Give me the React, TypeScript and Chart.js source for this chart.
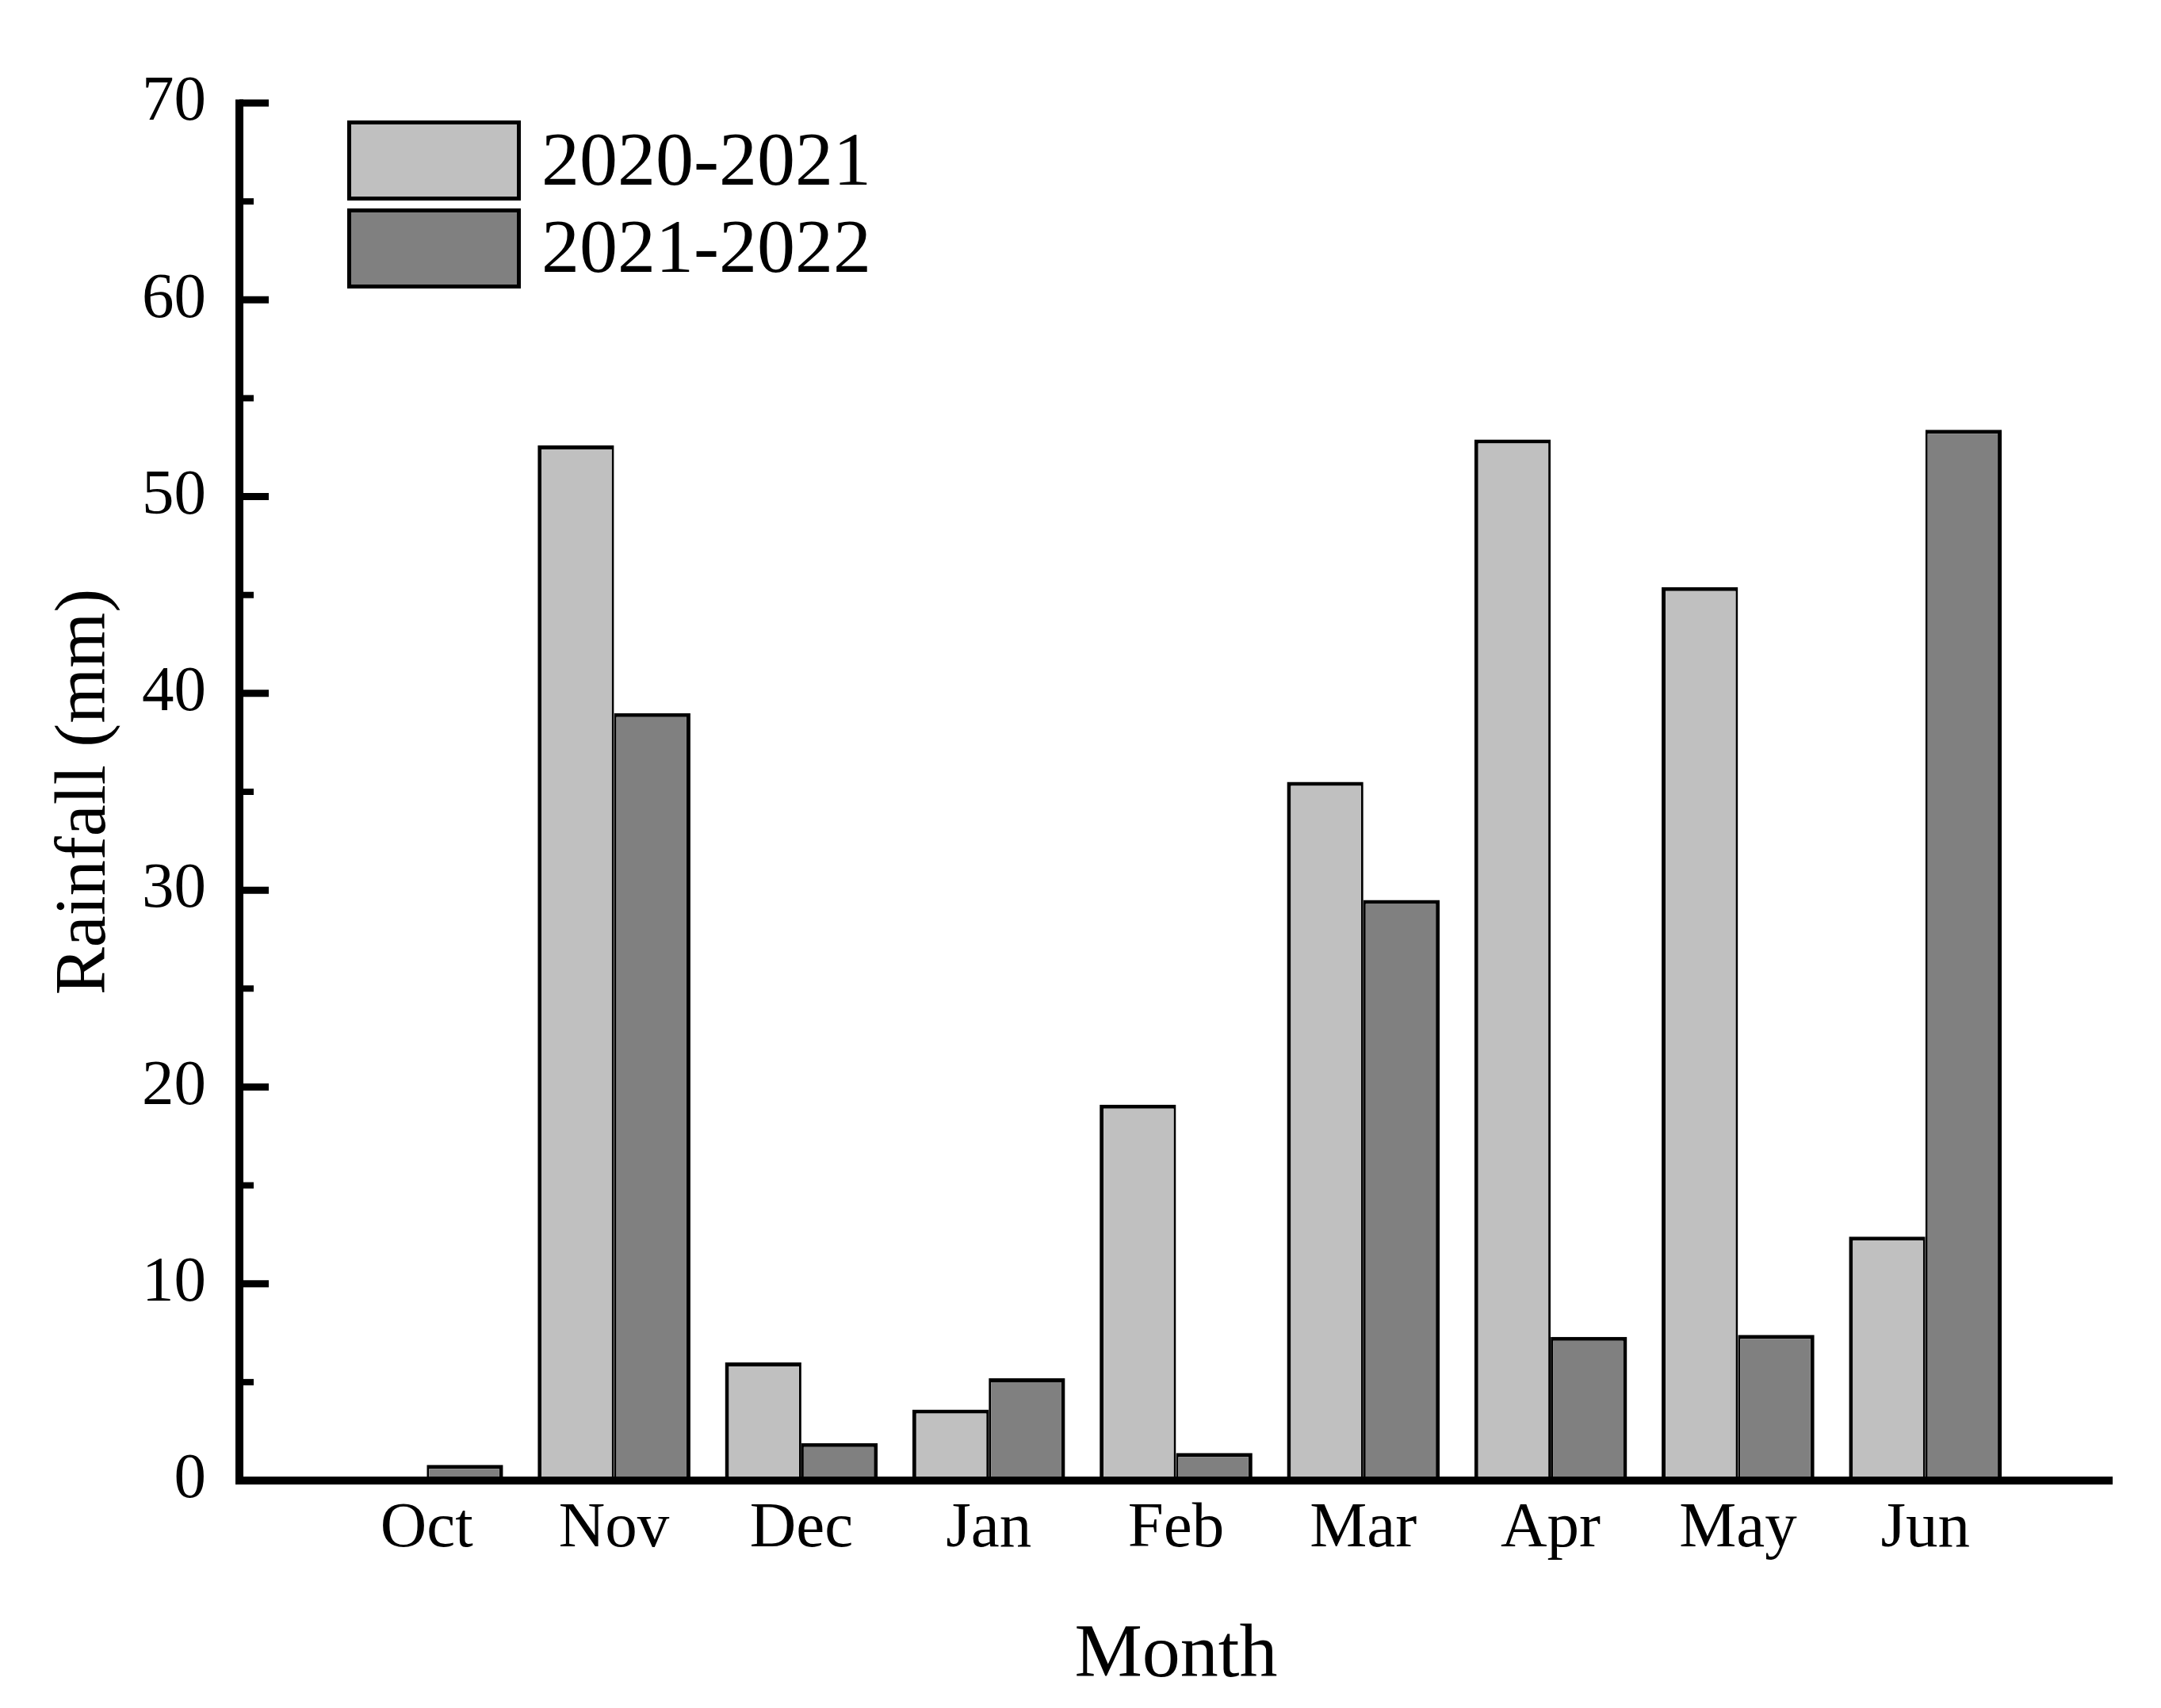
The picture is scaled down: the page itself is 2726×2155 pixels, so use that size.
import React, { useEffect, useRef } from "react";
import { Chart, registerables } from "chart.js";

Chart.register(...registerables);

const months = ["Oct", "Nov", "Dec", "Jan", "Feb", "Mar", "Apr", "May", "Jun"];
const rain20202021 = [0, 52.6, 6.0, 3.6, 19.1, 35.5, 52.9, 45.4, 12.4];
const rain20212022 = [0.8, 39.0, 1.9, 5.2, 1.4, 29.5, 7.3, 7.4, 53.4];
const seriesNames = ["2020-2021", "2021-2022"];
const seriesColors = ["#c0c0c0", "#808080"];
const yMin = 0;
const yMax = 70;
const yMajorStep = 10;
const yMinorStep = 5;

const FONT = "'Liberation Serif', 'Times New Roman', serif";

const axesPlugin = {
  id: "axesPlugin",
  afterDatasetsDraw(chart: any) {
    const { ctx, chartArea, scales } = chart;
    const y = scales.y;
    const left = chartArea.left;
    const top = y.getPixelForValue(yMax);
    const bottom = y.getPixelForValue(yMin);
    ctx.save();
    ctx.strokeStyle = "#000";
    ctx.lineCap = "butt";
    // minor ticks
    ctx.lineWidth = 8;
    for (let v = yMin + yMinorStep; v < yMax; v += yMajorStep) {
      const py = y.getPixelForValue(v);
      ctx.beginPath();
      ctx.moveTo(left, py);
      ctx.lineTo(left + 18, py);
      ctx.stroke();
    }
    // major ticks
    ctx.lineWidth = 9;
    for (let v = yMin + yMajorStep; v <= yMax; v += yMajorStep) {
      const py = y.getPixelForValue(v);
      ctx.beginPath();
      ctx.moveTo(left, py);
      ctx.lineTo(left + 37, py);
      ctx.stroke();
    }
    // y axis
    ctx.lineWidth = 10;
    ctx.beginPath();
    ctx.moveTo(left, top - 4.5);
    ctx.lineTo(left, bottom + 5);
    ctx.stroke();
    // x axis
    ctx.beginPath();
    ctx.moveTo(left - 5, bottom);
    ctx.lineTo(chartArea.right, bottom);
    ctx.stroke();
    ctx.restore();
  },
};

const legendPlugin = {
  id: "customLegend",
  afterDraw(chart: any) {
    const { ctx } = chart;
    const datasets = chart.data.datasets;
    const boxX = 438;
    const boxW = 219;
    const boxH = 101;
    const boxTops = [152, 263];
    const baselines = [233, 343];
    ctx.save();
    datasets.forEach((ds: any, i: number) => {
      ctx.fillStyle = ds.backgroundColor;
      ctx.fillRect(boxX, boxTops[i], boxW, boxH);
      ctx.strokeStyle = "#000";
      ctx.lineWidth = 5;
      ctx.strokeRect(boxX + 2.5, boxTops[i] + 2.5, boxW - 5, boxH - 5);
      ctx.fillStyle = "#000";
      ctx.font = `96px ${FONT}`;
      ctx.textAlign = "left";
      ctx.textBaseline = "alphabetic";
      ctx.fillText(ds.label, 683, baselines[i]);
    });
    ctx.restore();
  },
};

export default function App() {
  const canvasRef = useRef<HTMLCanvasElement | null>(null);

  useEffect(() => {
    document.body.style.margin = "0";
    const canvas = canvasRef.current;
    if (!canvas) return;
    const labels = ["", ...months, ""];
    const chart = new Chart(canvas, {
      type: "bar",
      data: {
        labels,
        datasets: [
          {
            label: seriesNames[0],
            data: [null, ...rain20202021, null],
            backgroundColor: seriesColors[0],
            borderColor: "#000",
            borderWidth: { top: 5, left: 5, right: 3, bottom: 0 },
            borderSkipped: false,
            categoryPercentage: 0.8155,
            barPercentage: 1,
          },
          {
            label: seriesNames[1],
            data: [null, ...rain20212022, null],
            backgroundColor: seriesColors[1],
            borderColor: "#000",
            borderWidth: { top: 5, left: 3, right: 5, bottom: 0 },
            borderSkipped: false,
            categoryPercentage: 0.8155,
            barPercentage: 1,
          },
        ],
      },
      options: {
        responsive: false,
        animation: false,
        devicePixelRatio: 1,
        layout: { padding: { top: 130, right: 61, left: 0, bottom: 0 } },
        plugins: {
          legend: { display: false },
          tooltip: { enabled: false },
        },
        scales: {
          x: {
            type: "category",
            offset: false,
            grid: { display: false, drawTicks: false, tickLength: 0 },
            border: { display: false },
            ticks: {
              color: "#000",
              font: { family: FONT, size: 81 },
              padding: 13,
              maxRotation: 0,
              autoSkip: false,
            },
            title: {
              display: true,
              text: "Month",
              color: "#000",
              font: { family: FONT, size: 96 },
              padding: { top: 0, bottom: 8 },
            },
            afterFit(scale: any) {
              scale.height = 287;
            },
          },
          y: {
            min: yMin,
            max: yMax,
            grid: { display: false, drawTicks: false, tickLength: 0 },
            border: { display: false },
            ticks: {
              stepSize: yMajorStep,
              color: "#000",
              font: { family: FONT, size: 81 },
              padding: 42,
            },
            title: {
              display: true,
              text: "Rainfall (mm)",
              color: "#000",
              font: { family: FONT, size: 90 },
              padding: { top: 54, bottom: 0 },
            },
            afterFit(scale: any) {
              scale.width = 302;
            },
          },
        },
      },
      plugins: [axesPlugin, legendPlugin],
    } as any);
    return () => chart.destroy();
  }, []);

  return (
    <div style={{ position: "absolute", left: 0, top: 0, width: 2726, height: 2155, background: "#fff" }}>
      <canvas ref={canvasRef} width={2726} height={2155} style={{ display: "block", width: 2726, height: 2155 }} />
    </div>
  );
}
